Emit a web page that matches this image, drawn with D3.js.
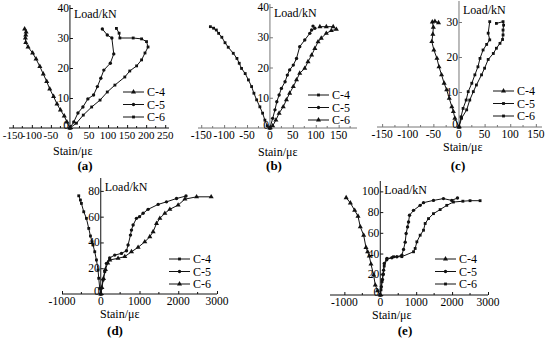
<!DOCTYPE html>
<html>
<head>
<meta charset="utf-8">
<script src="https://cdn.jsdelivr.net/npm/d3@7"></script>
<style>
  body { margin: 0; background: #fff; }
  svg { display: block; font-family: "Liberation Serif", "Times New Roman", "DejaVu Serif", serif; }
</style>
</head>
<body>
<svg id="chart" width="550" height="342"></svg>
<script>
// strain (x, με) / load (y, kN) pairs
var a_c4 = [[0,0],[-8,2],[-15,4],[-25,6],[-34,8],[-43,10.5],[-53,13],[-61,15.5],[-70,18],[-79,20.5],[-89,23],[-98,25],[-110,27],[-116,28.5],[-117,30],[-116,31],[-115,32],[-119,33]];
var a_c5 = [[0,0],[10,2],[21,5],[34,7],[47,9.7],[62,11],[72,13.8],[81,16.6],[89,19.3],[106,21.6],[115,24.7],[110,30],[98,31],[85,33]];
var a_c6 = [[0,0],[17,1.6],[35,4.3],[57,7],[79,9.3],[98,12],[118,14.3],[144,17],[157,19],[175,20.7],[188,22.7],[197,25],[205,27],[201,28.8],[188,29.7],[166,30],[131,30],[129,31.6],[122,33.2]];

var b_c4 = [[0,0],[-6,0.7],[-11,2.6],[-16,4.9],[-22,7],[-29,9.3],[-35,11.5],[-40,13.7],[-47,15.9],[-54,18],[-62,19.7],[-67,21.4],[-72,23],[-80,24.7],[-91,26.7],[-98,28.2],[-105,30],[-112,31.3],[-117,32.4],[-123,33],[-130,33.5]];
var b_c5 = [[0,0],[6,3.2],[11,6],[15,8.7],[20,10.9],[25,13.1],[33,15.3],[38,17.5],[43,19.2],[51,20.8],[58,23],[65,26.9],[76,29.1],[87,31.3],[91,32.4],[98,33],[94,33.7]];
var b_c6 = [[0,0],[6,0.7],[13,2.6],[20,4.9],[29,7],[36,9.3],[43,11.5],[51,13.7],[58,15.9],[65,18.1],[76,19.7],[83,21.9],[91,24.1],[98,26.3],[105,28.5],[112,29.7],[123,31.3],[134,32.2],[145,32.6],[138,33.5],[123,33.5],[109,33.5]];

var c_c4 = [[0,0],[-8,2.5],[-11,4.4],[-14,5.8],[-19,8.2],[-24,10.6],[-29,12.5],[-34,14.9],[-39,17.2],[-43,19.6],[-49,22],[-53,24.4],[-51,26.5],[-50,28.5],[-52,30],[-47,30.2],[-40,29.8]];
var c_c5 = [[0,0],[4,2.9],[8,5.3],[14,7.7],[18,10.1],[25,12.5],[31,14.9],[37,17.2],[41,19.6],[47,22],[54,23.6],[60,24.9],[57,26.8],[60,30.1]];
var c_c6 = [[0,0],[5,2.5],[15,4.9],[21,7.7],[28,10.1],[34,12],[44,14.9],[50,16.8],[57,19.3],[67,21],[73,22.5],[80,23.9],[85,25],[86,26.3],[86,27.7],[87,29.1],[86,30.1],[73,29.6]];

var d_c4 = [[0,0],[-26,4.4],[-52,12.2],[-70,18.6],[-111,26.4],[-155,32.8],[-199,38],[-225,40.5],[-266,45],[-310,50.9],[-370,58.7],[-439,63.8],[-499,70.3],[-525,72.9],[-568,76.2]];
var d_c5 = [[0,0],[18,4.4],[60,10.9],[103,17.3],[147,23.8],[230,28],[362,30.2],[535,31.5],[664,33.6],[705,38],[767,45.7],[793,49.6],[835,53.5],[922,58.7],[1000,60],[1093,62.6],[1222,65.7],[1481,69.5],[1697,71.5],[1956,74.1],[2200,76]];
var d_c6 = [[0,0],[30,5],[70,12],[120,19],[180,24],[233,26.4],[447,27.7],[620,29],[793,32.8],[964,36.2],[1137,40.5],[1266,44.4],[1352,48.3],[1439,54.7],[1525,58.7],[1654,62.6],[1783,65.7],[1997,69],[2171,73.6],[2473,75.4],[2850,75.4]];

var e_c4 = [[0,0],[-75,4.1],[-139,9.6],[-185,19.2],[-259,29.8],[-306,37.5],[-352,41.6],[-398,45.9],[-463,57.7],[-556,65.7],[-620,76],[-713,81.7],[-833,88.8],[-950,93.9]];
var e_c5 = [[0,0],[30,8],[60,15],[80,20],[93,24],[111,30.5],[185,35.3],[324,35.9],[463,36.9],[602,38.5],[648,44],[694,51],[720,59.3],[760,65.7],[787,70.5],[815,76.9],[926,81.7],[1111,86.5],[1204,89.1],[1481,91.3],[1759,93],[1991,91.3],[2150,93.6]];
var e_c6 = [[0,0],[20,5],[50,13],[80,20],[110,28],[180,34],[370,36.9],[600,37],[926,41.7],[972,44.9],[1019,51.3],[1111,57.7],[1204,62.5],[1250,69],[1343,73.7],[1481,78.5],[1667,82.4],[1852,86.5],[2037,89.7],[2300,90.5],[2500,91],[2780,91]];

var seriesNames = ["C-4", "C-5", "C-6"];
var xTicksSmall = [-150, -100, -50, 0, 50, 100, 150];
var xTicksA = [-150, -100, -50, 0, 50, 100, 150, 200, 250];
var xTicksBig = [-1000, 0, 1000, 2000, 3000];
var yTicks40 = [0, 10, 20, 30, 40];
var yTicks30 = [0, 10, 20, 30];
var yTicks80 = [0, 20, 40, 60, 80];
var yTicks100 = [0, 20, 40, 60, 80, 100];

var panels = [
  { tag: "(a)", xd: [-160, 260], xr: [9, 169], yd: [0, 41], yr: [128, 5], xt: xTicksA, xm: 25, yt: yTicks40, fs: 11,
    data: [a_c4, a_c5, a_c6], marks: ["tri", "circ", "sq"], leg: [123, 92], tagPos: [85, 170], title: [53, 155], axis: "#111" },
  { tag: "(b)", xd: [-157, 190], xr: [198, 357], yd: [0, 41], yr: [128, 4], xt: xTicksSmall, xm: 25, yt: yTicks40, fs: 11.5,
    data: [b_c4, b_c5, b_c6], marks: ["sq", "circ", "tri"], leg: [308, 95], tagPos: [274, 170], title: [258, 156], axis: "#777" },
  { tag: "(c)", xd: [-160, 162], xr: [377, 542], yd: [0, 36], yr: [127, 1], xt: xTicksSmall, xm: 25, yt: yTicks30, fs: 11.5,
    data: [c_c4, c_c5, c_c6], marks: ["tri", "sq", "sq"], leg: [493, 91], tagPos: [458, 170], title: [443, 151], axis: "#777" },
  { tag: "(d)", xd: [-1000, 3000], xr: [62, 217], yd: [0, 90], yr: [294, 178], xt: xTicksBig, xm: 500, yt: yTicks80, fs: 11.5,
    data: [d_c4, d_c5, d_c6], marks: ["sq", "circ", "tri"], leg: [169, 259], tagPos: [115, 335], title: [100, 318], axis: "#111" },
  { tag: "(e)", xd: [-1400, 3000], xr: [330, 488], yd: [0, 110], yr: [295, 181], xt: xTicksBig, xm: 500, yt: yTicks100, fs: 11.5,
    data: [e_c4, e_c5, e_c6], marks: ["tri", "circ", "sq"], leg: [435, 259], tagPos: [405, 335], title: [372, 319], axis: "#111" }
];

var svg = d3.select("#chart");

var symbolFor = {
  tri: d3.symbol().type(d3.symbolTriangle).size(11),
  circ: d3.symbol().type(d3.symbolCircle).size(9),
  sq: d3.symbol().type(d3.symbolSquare).size(8)
};

panels.forEach(function(p) {
  var x = d3.scaleLinear().domain(p.xd).range(p.xr);
  var y = d3.scaleLinear().domain(p.yd).range(p.yr);
  var g = svg.append("g");
  var x0 = x(0), y0 = y(0);

  // x axis along load = 0, ticks pointing up
  var xAxis = g.append("g").attr("transform", "translate(0," + y0 + ")")
    .call(d3.axisTop(x).tickValues(p.xt).tickSize(3).tickFormat(""));
  xAxis.select(".domain").attr("stroke", p.axis).attr("d", "M" + p.xr[0] + ",0H" + p.xr[1]);
  xAxis.selectAll(".tick line").attr("stroke", p.axis);
  var minors = d3.range(p.xt[0], p.xd[1] + 1e-9, p.xm).filter(function(v) {
    return v >= p.xd[0] && p.xt.indexOf(v) < 0;
  });
  g.selectAll(".minor").data(minors).enter().append("line")
    .attr("x1", function(d) { return x(d); }).attr("x2", function(d) { return x(d); })
    .attr("y1", y0).attr("y2", y0 - 2).attr("stroke", p.axis);
  g.selectAll(".xl").data(p.xt).enter().append("text")
    .attr("x", function(d) { return x(d); }).attr("y", y0 + 11)
    .attr("text-anchor", "middle").attr("font-size", p.fs)
    .text(function(d) { return d; });

  // y axis along strain = 0, ticks pointing right
  var yAxis = g.append("g").attr("transform", "translate(" + x0 + ",0)")
    .call(d3.axisRight(y).tickValues(p.yt).tickSize(3).tickFormat(""));
  yAxis.select(".domain").attr("stroke", p.axis).attr("d", "M0," + p.yr[0] + "V" + p.yr[1]);
  yAxis.selectAll(".tick line").attr("stroke", p.axis);
  g.selectAll(".yl").data(p.yt).enter().append("text")
    .attr("x", x0 - 1).attr("y", function(d) { return d === 0 ? y(d) + 1 : y(d) + 4; })
    .attr("text-anchor", "end").attr("font-size", 11.5)
    .text(function(d) { return d; });

  g.append("text").attr("x", x0 + 4).attr("y", p.yr[1] + 13)
    .attr("font-size", 12).text("Load/kN");
  g.append("text").attr("x", p.title[0]).attr("y", p.title[1])
    .attr("font-size", 12).text("Stain/\u03bc\u03b5");
  g.append("text").attr("x", p.tagPos[0]).attr("y", p.tagPos[1])
    .attr("text-anchor", "middle").attr("font-size", 13).attr("font-weight", "bold").text(p.tag);

  var line = d3.line().x(function(d) { return x(d[0]); }).y(function(d) { return y(d[1]); });

  p.data.forEach(function(s, i) {
    g.append("path").datum(s).attr("d", line)
      .attr("fill", "none").attr("stroke", "#111").attr("stroke-width", 1);
    g.selectAll(".m" + i).data(s).enter().append("path")
      .attr("d", symbolFor[p.marks[i]])
      .attr("transform", function(d) { return "translate(" + x(d[0]) + "," + y(d[1]) + ")"; })
      .attr("fill", "#111");

    var ly = p.leg[1] + i * 12.5;
    g.append("line").attr("x1", p.leg[0]).attr("x2", p.leg[0] + 21)
      .attr("y1", ly).attr("y2", ly).attr("stroke", "#111");
    g.append("path").attr("d", symbolFor[p.marks[i]])
      .attr("transform", "translate(" + (p.leg[0] + 10.5) + "," + ly + ")").attr("fill", "#111");
    g.append("text").attr("x", p.leg[0] + 24).attr("y", ly + 4)
      .attr("font-size", 12).text(seriesNames[i]);
  });
});
</script>
</body>
</html>
